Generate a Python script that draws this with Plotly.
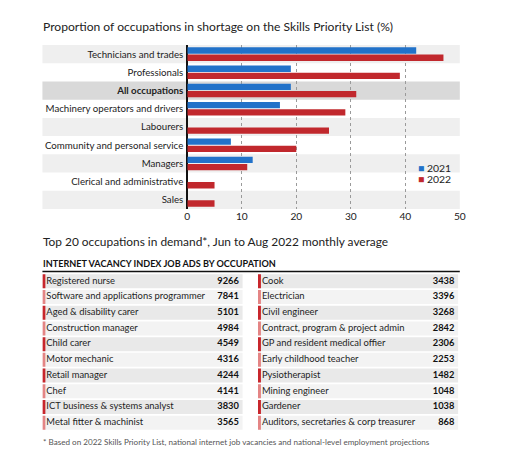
import plotly.graph_objects as go

W, H = 518, 457
OFF = 8                              # html body margin around the figure
FW, FH = W - 2 * OFF, H - 2 * OFF    # figure size so that the page fits the window

# ---------------- data ----------------
categories = ["Technicians and trades", "Professionals", "All occupations",
              "Machinery operators and drivers", "Labourers",
              "Community and personal service", "Managers",
              "Clerical and administrative", "Sales"]
values_2021 = [42, 19, 19, 17, 0, 8, 12, 0, 0]
values_2022 = [47, 39, 31, 29, 26, 20, 11, 5, 5]
x_ticks = [0, 10, 20, 30, 40, 50]

left_names = ["Registered nurse", "Software and applications programmer",
              "Aged & disability carer", "Construction manager", "Child carer",
              "Motor mechanic", "Retail manager", "Chef",
              "ICT business & systems analyst", "Metal fitter & machinist"]
left_values = [9266, 7841, 5101, 4984, 4549, 4316, 4244, 4141, 3830, 3565]
right_names = ["Cook", "Electrician", "Civil engineer",
               "Contract, program & project admin", "GP and resident medical offier",
               "Early childhood teacher", "Pysiotherapist", "Mining engineer",
               "Gardener", "Auditors, secretaries & corp treasurer"]
right_values = [3438, 3396, 3268, 2842, 2306, 2253, 1482, 1048, 1038, 868]

# ---------------- style ----------------
FONT = "Lato"
BLUE = "#2272c9"
RED = "#c1282d"
BAND = "#efefef"
BAND_ALL = "#d9d9d9"
ROW_DARK = "#e9e9e9"
ROW_LIGHT = "#f3f3f3"
ACC_DARK = "#c8262c"
ACC_LIGHT = "#e48585"
TXT = "#1e1e1e"


def px_x(x):
    return (x - OFF) / FW


def px_y(y):
    return 1 - (y - OFF) / FH


fig = go.Figure()

# ---------------- bar chart ----------------
fig.add_trace(go.Bar(y=categories, x=values_2021, orientation="h", name="2021",
                     marker=dict(color=BLUE, line=dict(width=0)), showlegend=False,
                     xaxis="x", yaxis="y"))
fig.add_trace(go.Bar(y=categories, x=values_2022, orientation="h", name="2022",
                     marker=dict(color=RED, line=dict(width=0)), showlegend=False,
                     xaxis="x", yaxis="y"))

shapes = []
for i, c in enumerate(categories):
    if c == "All occupations":
        col = BAND_ALL
    elif i % 2 == 0:
        col = BAND
    else:
        continue
    shapes.append(dict(type="rect", xref="paper", yref="y",
                       x0=px_x(40), x1=px_x(465), y0=i - 0.5, y1=i + 0.5,
                       fillcolor=col, line=dict(width=0), layer="below"))

# rule under table subheading
shapes.append(dict(type="line", xref="paper", yref="paper",
                   x0=px_x(40), x1=px_x(465), y0=px_y(271.5), y1=px_y(271.5),
                   line=dict(color="#111111", width=1.5)))

ticktext = ["<b>%s</b>" % c if c == "All occupations" else c for c in categories]

# ---------------- tables (drawn on hidden axes) ----------------
TABLE_W = 204.0          # px width of each table column block
ACC = 3.0 / TABLE_W      # accent strip width
PAD_L = 1.0 / TABLE_W
PAD_R = 4.0 / TABLE_W
ROW_H = 0.89


def add_table(names, vals, xa, ya):
    n = len(names)
    rows = list(range(n))
    fills = [ROW_DARK if i % 2 == 0 else ROW_LIGHT for i in rows]
    accs = [ACC_DARK if i % 2 == 0 else ACC_LIGHT for i in rows]
    fig.add_trace(go.Bar(y=rows, x=[1] * n, base=0, orientation="h",
                         width=ROW_H, offset=-ROW_H / 2,
                         marker=dict(color=fills, line=dict(width=0)),
                         showlegend=False, hoverinfo="skip", xaxis=xa, yaxis=ya))
    fig.add_trace(go.Bar(y=rows, x=[ACC] * n, base=0, orientation="h",
                         width=ROW_H, offset=-ROW_H / 2,
                         marker=dict(color=accs, line=dict(width=0)),
                         showlegend=False, hoverinfo="skip", xaxis=xa, yaxis=ya))
    fig.add_trace(go.Scatter(y=rows, x=[ACC + PAD_L] * n, text=names, mode="text",
                             textposition="middle right", cliponaxis=False,
                             textfont=dict(family=FONT, size=9.4, color=TXT),
                             showlegend=False, hoverinfo="skip", xaxis=xa, yaxis=ya))
    fig.add_trace(go.Scatter(y=rows, x=[1 - PAD_R] * n, text=[str(v) for v in vals],
                             mode="text", textposition="middle left", cliponaxis=False,
                             textfont=dict(family=FONT, size=9.3, color="#111",
                                           weight="bold"),
                             showlegend=False, hoverinfo="skip", xaxis=xa, yaxis=ya))


add_table(left_names, left_values, "x2", "y2")
add_table(right_names, right_values, "x3", "y3")

annotations = [
    dict(text="Proportion of occupations in shortage on the Skills Priority List (%)",
         x=px_x(39), y=px_y(26), xref="paper", yref="paper", xanchor="left",
         yanchor="middle", showarrow=False, font=dict(family=FONT, size=12.1, color="#222")),
    dict(text="Top 20 occupations in demand*, Jun to Aug 2022 monthly average",
         x=px_x(39), y=px_y(241), xref="paper", yref="paper", xanchor="left",
         yanchor="middle", showarrow=False, font=dict(family=FONT, size=11.9, color="#222")),
    dict(text="<b>INTERNET VACANCY INDEX JOB ADS BY OCCUPATION</b>",
         x=px_x(39), y=px_y(263), xref="paper", yref="paper", xanchor="left",
         yanchor="middle", showarrow=False, font=dict(family=FONT, size=9.1, color="#111")),
    dict(text="* Based on 2022 Skills Priority List, national internet job vacancies and national-level employment projections",
         x=px_x(39), y=px_y(442), xref="paper", yref="paper", xanchor="left",
         yanchor="middle", showarrow=False, font=dict(family=FONT, size=8.1, color="#555")),
    dict(text="<span style='color:%s'>■</span> 2021" % BLUE,
         x=px_x(420), y=px_y(168), xref="paper", yref="paper", xanchor="left",
         yanchor="middle", showarrow=False, font=dict(family=FONT, size=10.4, color="#222")),
    dict(text="<span style='color:%s'>■</span> 2022" % RED,
         x=px_x(420), y=px_y(178.5), xref="paper", yref="paper", xanchor="left",
         yanchor="middle", showarrow=False, font=dict(family=FONT, size=10.4, color="#222")),
]

hidden = dict(visible=False, fixedrange=True, showgrid=False, zeroline=False)
table_y = dict(domain=[px_y(430.5), px_y(273.5)], range=[9.5, -0.5], **hidden)

fig.update_layout(
    width=FW, height=FH,
    margin=dict(l=0, r=0, t=0, b=0),
    paper_bgcolor="white", plot_bgcolor="rgba(0,0,0,0)",
    barmode="group", bargap=0.21, bargroupgap=0.12,
    font=dict(family=FONT, size=10, color="#222"),
    shapes=shapes, annotations=annotations,
    xaxis=dict(domain=[px_x(187.5), px_x(465)], range=[0, 50], tickvals=x_ticks,
               showgrid=True, gridcolor="#9a9a9a", griddash="dot", gridwidth=1,
               zeroline=True, zerolinecolor="#111", zerolinewidth=1.5,
               showline=False, ticks="", tickfont=dict(size=10.2, color="#222"),
               fixedrange=True, anchor="y"),
    yaxis=dict(domain=[px_y(209), px_y(45)], range=[8.5, -0.5], type="category",
               tickvals=categories, ticktext=ticktext, showgrid=False,
               showline=False, ticks="", ticklabelstandoff=3, anchor="x",
               tickfont=dict(size=9.7, color="#222"), fixedrange=True),
    xaxis2=dict(domain=[px_x(40), px_x(244)], range=[0, 1], anchor="y2", **hidden),
    yaxis2=dict(anchor="x2", **table_y),
    xaxis3=dict(domain=[px_x(259.5), px_x(463.5)], range=[0, 1], anchor="y3", **hidden),
    yaxis3=dict(anchor="x3", **table_y),
)

fig.write_html("out.html")
